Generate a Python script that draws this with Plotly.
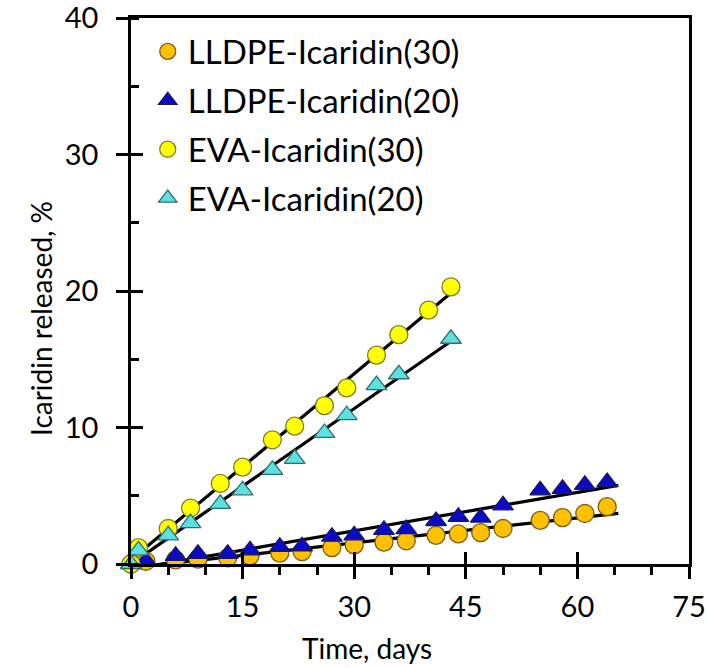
import numpy as np
import plotly.graph_objects as go

# ---- data ----
series_names = ["LLDPE-Icaridin(30)", "LLDPE-Icaridin(20)", "EVA-Icaridin(30)", "EVA-Icaridin(20)"]

lldpe30_days = [0, 2, 6, 9, 13, 16, 20, 23, 27, 30, 34, 37, 41, 44, 47, 50, 55, 58, 61, 64]
lldpe30_rel = [0, 0.2, 0.3, 0.35, 0.45, 0.6, 0.8, 0.9, 1.2, 1.4, 1.6, 1.7, 2.1, 2.2, 2.3, 2.6, 3.2, 3.4, 3.7, 4.2]

lldpe20_days = [0, 2, 6, 9, 13, 16, 20, 23, 27, 30, 34, 37, 41, 44, 47, 50, 55, 58, 61, 64]
lldpe20_rel = [0, 0.25, 0.6, 0.75, 0.75, 1.0, 1.25, 1.3, 2.0, 2.1, 2.5, 2.55, 3.15, 3.45, 3.4, 4.3, 5.4, 5.5, 5.8, 6.0]

eva30_days = [0, 1, 5, 8, 12, 15, 19, 22, 26, 29, 33, 36, 40, 43]
eva30_rel = [0, 1.2, 2.6, 4.1, 5.9, 7.1, 9.1, 10.1, 11.6, 12.9, 15.3, 16.8, 18.6, 20.3]

eva20_days = [0, 1, 5, 8, 12, 15, 19, 22, 26, 29, 33, 36, 43]
eva20_rel = [0, 1.0, 2.1, 3.0, 4.4, 5.4, 6.9, 7.7, 9.6, 10.9, 13.1, 13.9, 16.5]

x_tick_vals = [0, 15, 30, 45, 60, 75]
y_tick_vals = [0, 10, 20, 30, 40]

# ---- styles ----
FONT = "Lato"
fills = ["#FFC000", "#0A0AC8", "#FFFF00", "#5CE0E0"]
edges = ["#7a5f1a", "#1a1a5a", "#7d7d2a", "#2f6f70"]
symbols = ["circle", "triangle-up", "circle", "triangle-up"]
forward = [1.5, 1.5, 0, 0]

data = [(lldpe30_days, lldpe30_rel), (lldpe20_days, lldpe20_rel),
        (eva30_days, eva30_rel), (eva20_days, eva20_rel)]

fig = go.Figure()

# trend lines (least-squares fits of each series)
for (xs, ys), fw in zip(data, forward):
    k, b = np.polyfit(xs, ys, 1)
    x0, x1 = min(xs), max(xs) + fw
    xl = [x0, x1]
    yl = [k * x0 + b, k * x1 + b]
    fig.add_trace(go.Scatter(x=xl, y=yl, mode="lines", line=dict(color="black", width=3.2),
                             showlegend=False, hoverinfo="skip", cliponaxis=True))

# markers
for i, ((xs, ys), name) in enumerate(zip(data, series_names)):
    fig.add_trace(go.Scatter(
        x=xs, y=ys, mode="markers", name=name, legendgroup=name,
        marker=dict(symbol=symbols[i], color=fills[i], size=18,
                    line=dict(color=edges[i], width=1.3)),
        cliponaxis=False))

# dummy trace on overlay axes (for inward half of crossing major ticks)
fig.add_trace(go.Scatter(x=[None], y=[None], xaxis="x2", yaxis="y2", showlegend=False, hoverinfo="skip"))

axis_common = dict(showgrid=False, zeroline=False, linecolor="black", linewidth=2.5,
                   tickcolor="black", tickwidth=2.5, automargin=False,
                   ticklabeloverflow="allow", tickfont=dict(family=FONT, size=29, color="black"))

fig.update_layout(
    width=707, height=668,
    margin=dict(l=131, r=18, t=18, b=104, autoexpand=False),
    paper_bgcolor="white", plot_bgcolor="white",
    font=dict(family=FONT, size=28, color="black"),
    showlegend=True,
    legend=dict(x=0.03, y=0.99, xanchor="left", yanchor="top", bgcolor="rgba(0,0,0,0)",
                font=dict(family=FONT, size=33, color="black"), tracegroupgap=3,
                itemsizing="trace"),
    xaxis=dict(range=[0, 75], tickvals=x_tick_vals, ticks="outside", ticklen=12,
               mirror=True, showline=True, ticklabelstandoff=3,
               minor=dict(dtick=5, ticks="outside", ticklen=8, tickcolor="black", tickwidth=2.5),
               **axis_common),
    yaxis=dict(range=[0, 40], tickvals=y_tick_vals, ticks="outside", ticklen=12,
               mirror=True, showline=True, ticklabelstandoff=12,
               minor=dict(dtick=5, ticks="inside", ticklen=8, tickcolor="black", tickwidth=2.5),
               **axis_common),
    xaxis2=dict(range=[0, 75], overlaying="x", tickvals=x_tick_vals, ticks="inside", ticklen=12,
                showticklabels=False, showline=False, showgrid=False, zeroline=False,
                tickcolor="black", tickwidth=2.5, automargin=False),
    yaxis2=dict(range=[0, 40], overlaying="y", tickvals=y_tick_vals, ticks="inside", ticklen=12,
                showticklabels=False, showline=False, showgrid=False, zeroline=False,
                tickcolor="black", tickwidth=2.5, automargin=False),
    annotations=[
        dict(text="Time, days", xref="paper", yref="paper", x=0.423, y=-0.153,
             xanchor="center", yanchor="middle", showarrow=False,
             font=dict(family=FONT, size=28, color="black")),
        dict(text="Icaridin released, %", xref="paper", yref="paper", x=-0.16, y=0.45,
             xanchor="center", yanchor="middle", showarrow=False, textangle=-90,
             font=dict(family=FONT, size=28, color="black")),
    ],
)

# remove the browser's default 8px page margin so the figure fills the window
fig.write_html("out.html", config={"displayModeBar": False},
               post_script="document.body.style.margin='0';")
